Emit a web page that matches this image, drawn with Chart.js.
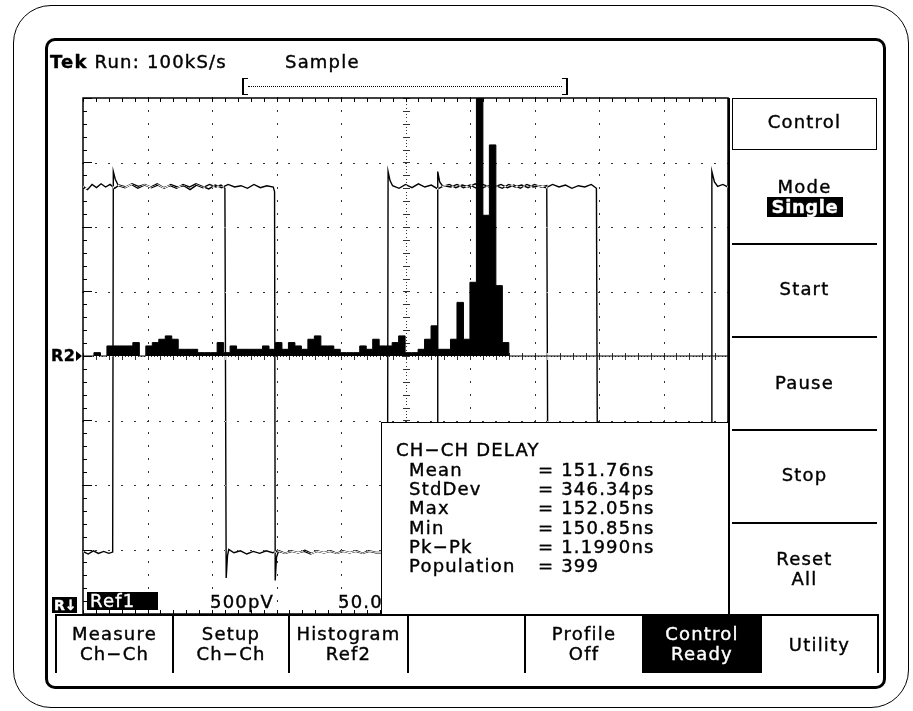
<!DOCTYPE html>
<html>
<head>
<meta charset="utf-8">
<script src="https://cdn.jsdelivr.net/npm/chart.js@4.4.0/dist/chart.umd.min.js"></script>
<style>
  html, body { margin: 0; padding: 0; background: #fff; }
  #wrap { position: relative; width: 913px; height: 711px; overflow: hidden; }
  canvas { position: absolute; left: 0; top: 0; }
  .t { position: absolute; font-family: 'DejaVu Sans', sans-serif; font-size: 18px; line-height: 18px;
       letter-spacing: 1.2px; color: #000; white-space: pre; -webkit-text-stroke: 0.4px #000; }
  .c { text-align: center; }
  .w { color: #fff; -webkit-text-stroke: 0.4px #fff; }
  .blk { position: absolute; background: #000; }
  .box { position: absolute; box-sizing: border-box; }
</style>
</head>
<body>
<div id="wrap">
  <canvas id="scope" width="913" height="711"></canvas>

  <!-- frames -->
  <div class="box" style="left:13px;top:5px;width:896px;height:703px;border:1.5px solid #000;border-radius:38px;"></div>
  <div class="box" style="left:45px;top:38px;width:841px;height:651px;border:3px solid #000;border-radius:10px;"></div>

  <!-- header -->
  <div class="t" style="left:50px;top:53px;"><b>Tek</b> Run: 100kS/s</div>
  <div class="t" style="left:285px;top:53px;">Sample</div>
  <div class="box" style="left:242px;top:78px;width:6px;height:17px;border-left:2px solid #000;border-top:1.5px solid #000;border-bottom:1.5px solid #000;"></div>
  <div class="box" style="left:562px;top:78px;width:6px;height:17px;border-right:2px solid #000;border-top:1.5px solid #000;border-bottom:1.5px solid #000;"></div>
  <div class="box" style="left:248px;top:86px;width:314px;height:1px;border-top:1px dotted #000;"></div>

  <!-- R2 marker -->
  <div class="t" style="left:51px;top:348px;font-size:16px;line-height:16px;font-weight:bold;letter-spacing:0.5px;">R2</div>
  <div class="box" style="left:76px;top:351px;width:0;height:0;border-top:5px solid transparent;border-bottom:5px solid transparent;border-left:6px solid #000;"></div>

  <!-- bottom-left readouts -->
  <div class="blk" style="left:52px;top:597px;width:25px;height:16px;"></div>
  <div class="t w" style="left:54px;top:598px;font-size:14px;line-height:14px;font-weight:bold;letter-spacing:0;">R↓</div>
  <div class="blk" style="left:87px;top:592px;width:71px;height:18px;"></div>
  <div class="t w" style="left:90px;top:592px;">Ref1</div>
  <div class="t" style="left:210px;top:593px;">500pV</div>
  <div class="t" style="left:338px;top:593px;">50.0</div>

  <!-- measurement readout -->
  <div class="box" style="left:381px;top:422px;width:348px;height:193px;background:#fff;border-top:1.5px solid #000;border-left:1.5px solid #000;"></div>
  <div class="t" style="left:396px;top:441px;">CH−CH DELAY</div>
  <div class="t" style="left:409px;top:461px;">Mean</div>
  <div class="t" style="left:409px;top:480px;">StdDev</div>
  <div class="t" style="left:409px;top:499px;">Max</div>
  <div class="t" style="left:409px;top:519px;">Min</div>
  <div class="t" style="left:409px;top:538px;">Pk−Pk</div>
  <div class="t" style="left:409px;top:557px;">Population</div>
  <div class="t" style="left:538px;top:461px;">= 151.76ns</div>
  <div class="t" style="left:538px;top:480px;">= 346.34ps</div>
  <div class="t" style="left:538px;top:499px;">= 152.05ns</div>
  <div class="t" style="left:538px;top:519px;">= 150.85ns</div>
  <div class="t" style="left:538px;top:538px;">= 1.1990ns</div>
  <div class="t" style="left:538px;top:557px;">= 399</div>

  <!-- right side menu -->
  <div class="blk" style="left:728px;top:98px;width:2px;height:518px;"></div>
  <div class="box" style="left:732px;top:98px;width:145px;height:52px;border:1.5px solid #000;"></div>
  <div class="blk" style="left:732px;top:243px;width:145px;height:1.5px;"></div>
  <div class="blk" style="left:732px;top:336px;width:145px;height:1.5px;"></div>
  <div class="blk" style="left:732px;top:429px;width:145px;height:1.5px;"></div>
  <div class="blk" style="left:732px;top:522px;width:145px;height:1.5px;"></div>
  <div class="t c" style="left:732px;width:145px;top:113px;">Control</div>
  <div class="t c" style="left:732px;width:145px;top:178px;">Mode</div>
  <div class="blk" style="left:767px;top:197px;width:76px;height:20px;"></div>
  <div class="t c w" style="left:767px;width:76px;top:198px;font-weight:bold;letter-spacing:0.6px;">Single</div>
  <div class="t c" style="left:732px;width:145px;top:280px;">Start</div>
  <div class="t c" style="left:732px;width:145px;top:374px;">Pause</div>
  <div class="t c" style="left:732px;width:145px;top:466px;">Stop</div>
  <div class="t c" style="left:732px;width:145px;top:550px;">Reset</div>
  <div class="t c" style="left:732px;width:145px;top:570px;">All</div>

  <!-- bottom menu -->
  <div class="blk" style="left:55px;top:614px;width:824px;height:2px;"></div>
  <div class="blk" style="left:642px;top:616px;width:120px;height:57px;"></div>
  <div class="blk" style="left:55px;top:614px;width:2px;height:59px;"></div>
  <div class="blk" style="left:172px;top:614px;width:2px;height:59px;"></div>
  <div class="blk" style="left:288px;top:614px;width:2px;height:59px;"></div>
  <div class="blk" style="left:407px;top:614px;width:2px;height:59px;"></div>
  <div class="blk" style="left:524px;top:614px;width:2px;height:59px;"></div>
  <div class="blk" style="left:877px;top:614px;width:2px;height:59px;"></div>
  <div class="t c" style="left:57px;width:115px;top:625px;">Measure</div>
  <div class="t c" style="left:57px;width:115px;top:645px;">Ch−Ch</div>
  <div class="t c" style="left:174px;width:114px;top:625px;">Setup</div>
  <div class="t c" style="left:174px;width:114px;top:645px;">Ch−Ch</div>
  <div class="t c" style="left:290px;width:117px;top:625px;">Histogram</div>
  <div class="t c" style="left:290px;width:117px;top:645px;">Ref2</div>
  <div class="t c" style="left:526px;width:116px;top:625px;">Profile</div>
  <div class="t c" style="left:526px;width:116px;top:645px;">Off</div>
  <div class="t c w" style="left:642px;width:120px;top:625px;">Control</div>
  <div class="t c w" style="left:642px;width:120px;top:645px;">Ready</div>
  <div class="t c" style="left:762px;width:115px;top:636px;">Utility</div>
</div>

<script>
// Ref1 acquisitions, [time div, volts div]
const sweep1 = [
  [0.00, 2.63], [0.07, 2.58], [0.14, 2.66], [0.21, 2.61], [0.28, 2.67], [0.35, 2.62], [0.42, 2.66], [0.49, 2.60],
  [0.56, 2.65], [0.66, 2.62], [0.76, 2.67], [0.86, 2.63], [0.96, 2.66], [1.06, 2.61], [1.16, 2.65], [1.26, 2.60],
  [1.36, 2.66], [1.46, 2.62], [1.56, 2.64], [1.66, 2.58], [1.76, 2.65], [1.86, 2.61], [1.96, 2.66], [2.06, 2.62],
  [2.14, 2.65], [2.20, 2.60],
  [2.22, -3.44], [2.24, -3.10], [2.26, -3.00], [2.34, -3.05], [2.44, -3.02], [2.54, -3.07], [2.64, -3.03],
  [2.74, -3.06], [2.84, -3.02], [2.94, -3.05], [3.04, -3.02], [3.14, -3.06], [3.24, -3.03], [3.34, -3.05],
  [3.44, -3.01], [3.54, -3.06], [3.64, -3.03], [3.74, -3.05], [3.84, -3.02], [3.94, -3.06], [4.04, -3.03],
  [4.14, -3.05], [4.24, -3.02], [4.34, -3.06], [4.44, -3.03], [4.54, -3.05], [4.72, -3.05],
  [4.73, 2.86], [4.76, 2.72], [4.80, 2.64], [4.90, 2.60], [5.00, 2.66], [5.10, 2.61], [5.20, 2.67], [5.30, 2.62],
  [5.40, 2.65], [5.50, 2.59], [5.60, 2.64], [5.70, 2.62], [5.80, 2.66], [5.90, 2.61], [6.00, 2.65], [6.10, 2.60],
  [6.20, 2.66], [6.30, 2.62], [6.40, 2.64], [6.50, 2.60], [6.60, 2.66], [6.70, 2.62], [6.80, 2.65], [6.90, 2.61],
  [7.00, 2.66], [7.10, 2.62], [7.19, 2.64],
  [7.21, -3.05], [9.74, -3.05],
  [9.75, 2.86], [9.79, 2.70], [9.84, 2.63], [9.92, 2.66], [10.00, 2.62]
];
const sweep2 = [
  [0.00, -3.03], [0.08, -3.07], [0.16, -3.02], [0.24, -3.06], [0.32, -3.03], [0.40, -3.06], [0.46, -3.04],
  [0.47, 2.86], [0.50, 2.74], [0.55, 2.64], [0.65, 2.61], [0.75, 2.66], [0.85, 2.60], [0.95, 2.65], [1.05, 2.62],
  [1.15, 2.67], [1.25, 2.61], [1.35, 2.64], [1.45, 2.60], [1.55, 2.66], [1.65, 2.62], [1.75, 2.67], [1.85, 2.63],
  [1.95, 2.59], [2.05, 2.65], [2.15, 2.61], [2.25, 2.66], [2.35, 2.62], [2.45, 2.64], [2.55, 2.60], [2.65, 2.66],
  [2.75, 2.61], [2.85, 2.64], [2.95, 2.62], [2.97, 2.55],
  [2.98, -3.48], [3.00, -3.12], [3.03, -3.03], [3.13, -3.06], [3.23, -3.02], [3.33, -3.05], [3.43, -3.03],
  [3.53, -3.07], [3.63, -3.02], [3.73, -3.05], [3.83, -3.03], [3.93, -3.06], [4.03, -3.02], [4.13, -3.05],
  [4.23, -3.03], [4.33, -3.06], [4.43, -3.02], [4.53, -3.04], [5.49, -3.05],
  [5.50, 2.86], [5.53, 2.70], [5.58, 2.63], [5.68, 2.66], [5.78, 2.61], [5.88, 2.65], [5.98, 2.62], [6.08, 2.67],
  [6.18, 2.60], [6.28, 2.64], [6.38, 2.62], [6.48, 2.66], [6.58, 2.61], [6.68, 2.65], [6.78, 2.60], [6.88, 2.66],
  [6.98, 2.62], [7.08, 2.64], [7.18, 2.61], [7.28, 2.66], [7.38, 2.62], [7.48, 2.65], [7.58, 2.60], [7.68, 2.64],
  [7.78, 2.62], [7.88, 2.66], [7.96, 2.60],
  [7.98, -3.05], [10.00, -3.05]
];

// Ref2 histogram: counts per bin, bins start at histStart (div), histBin wide
const histStart = 0.17;
const histBin = 0.1005;
const histCounts = [
  1, 0, 3, 3, 3, 3, 4, 0, 3, 4, 5, 6, 5, 2, 2, 2,
  1, 1, 1, 4, 1, 3, 2, 2, 2, 2, 3, 2, 4, 2, 4, 3,
  2, 5, 6, 3, 3, 2, 1, 1, 1, 3, 2, 5, 3, 3, 4, 6,
  1, 1, 2, 5, 9, 2, 2, 5, 16, 5, 22, 77, 42, 63, 21, 4
];
const histPeak = 77;

const toXY = arr => arr.map(p => ({ x: p[0], y: p[1] }));

const histPoints = [{ x: 0, y: 0 }];
histCounts.forEach((c, i) => histPoints.push({ x: histStart + i * histBin, y: c }));
histPoints.push({ x: histStart + histCounts.length * histBin, y: 0 });
histPoints.push({ x: 10, y: 0 });

const paper = {
  id: 'paper',
  beforeDraw(chart) {
    const ctx = chart.ctx;
    ctx.save();
    ctx.fillStyle = '#fff';
    ctx.fillRect(0, 0, chart.width, chart.height);
    ctx.restore();
  }
};

// dotted graticule, 10 x 8 divisions with 5 minor steps
const graticule = {
  id: 'graticule',
  beforeDatasetsDraw(chart) {
    const { ctx, chartArea: a, scales: { x, y } } = chart;
    ctx.save();
    ctx.fillStyle = '#333';
    for (let i = 1; i < 10; i++) {
      if (i === 5) continue;
      const px = Math.round(x.getPixelForValue(i));
      for (let j = 0; j <= 40; j++) {
        ctx.fillRect(px, Math.round(y.getPixelForValue(-4 + j * 0.2)) - 1, 1, 2);
      }
    }
    for (let i = -3; i <= 3; i++) {
      if (i === 0) continue;
      const py = Math.round(y.getPixelForValue(i));
      for (let j = 0; j <= 50; j++) {
        ctx.fillRect(Math.round(x.getPixelForValue(j * 0.2)) - 1, py, 2, 1);
      }
    }
    // centre cross
    const cx = Math.round(x.getPixelForValue(5));
    const cy = Math.round(y.getPixelForValue(0));
    for (let v = -4; v <= 4.001; v += 0.05) ctx.fillRect(cx, Math.round(y.getPixelForValue(v)), 1, 1);
    for (let v = 0; v <= 10.001; v += 0.05) ctx.fillRect(Math.round(x.getPixelForValue(v)), cy, 1, 1);
    for (let v = -4; v <= 4.001; v += 0.2) ctx.fillRect(cx - 3, Math.round(y.getPixelForValue(v)), 7, 1);
    for (let v = 0; v <= 10.001; v += 0.2) ctx.fillRect(Math.round(x.getPixelForValue(v)), cy - 3, 1, 7);
    // border ticks
    ctx.fillStyle = '#000';
    for (let v = 0; v <= 10.001; v += 0.2) {
      const px = Math.round(x.getPixelForValue(v));
      ctx.fillRect(px, a.top, 1, 4);
      ctx.fillRect(px, a.bottom - 4, 1, 4);
    }
    for (let v = -4; v <= 4.001; v += 0.2) {
      const py = Math.round(y.getPixelForValue(v));
      const major = Math.abs(v - Math.round(v)) < 0.01;
      ctx.fillRect(a.left, py, major ? 9 : 4, 1);
    }
    ctx.strokeStyle = '#000';
    ctx.lineWidth = 1.5;
    ctx.strokeRect(a.left, a.top, a.right - a.left, a.bottom - a.top);
    ctx.restore();
  }
};

// waveform drawn XOR-like over the histogram
const xorTrace = {
  id: 'xorTrace',
  beforeDatasetDraw(chart, args) {
    if (chart.data.datasets[args.index].xor) {
      chart.ctx.save();
      chart.ctx.globalCompositeOperation = 'difference';
    }
  },
  afterDatasetDraw(chart, args) {
    if (chart.data.datasets[args.index].xor) chart.ctx.restore();
  }
};

new Chart(document.getElementById('scope').getContext('2d'), {
  type: 'line',
  data: {
    datasets: [
      {
        label: 'Ref2 histogram',
        data: histPoints,
        yAxisID: 'yh',
        stepped: 'before',
        fill: 'origin',
        borderColor: '#000',
        backgroundColor: '#000',
        borderWidth: 1,
        pointRadius: 0
      },
      {
        label: 'Ref1 a',
        data: toXY(sweep1),
        xor: true,
        borderColor: '#fff',
        borderWidth: 1.4,
        pointRadius: 0,
        tension: 0,
        fill: false
      },
      {
        label: 'Ref1 b',
        data: toXY(sweep2),
        xor: true,
        borderColor: '#fff',
        borderWidth: 1.4,
        pointRadius: 0,
        tension: 0,
        fill: false
      }
    ]
  },
  options: {
    responsive: false,
    animation: false,
    devicePixelRatio: 1,
    layout: { padding: { left: 83, top: 98, right: 185, bottom: 97 } },
    plugins: { legend: { display: false }, tooltip: { enabled: false } },
    scales: {
      x: { type: 'linear', min: 0, max: 10, display: false },
      y: { type: 'linear', min: -4, max: 4, display: false },
      yh: { type: 'linear', min: -histPeak, max: histPeak, display: false }
    }
  },
  plugins: [paper, graticule, xorTrace]
});
</script>
</body>
</html>
